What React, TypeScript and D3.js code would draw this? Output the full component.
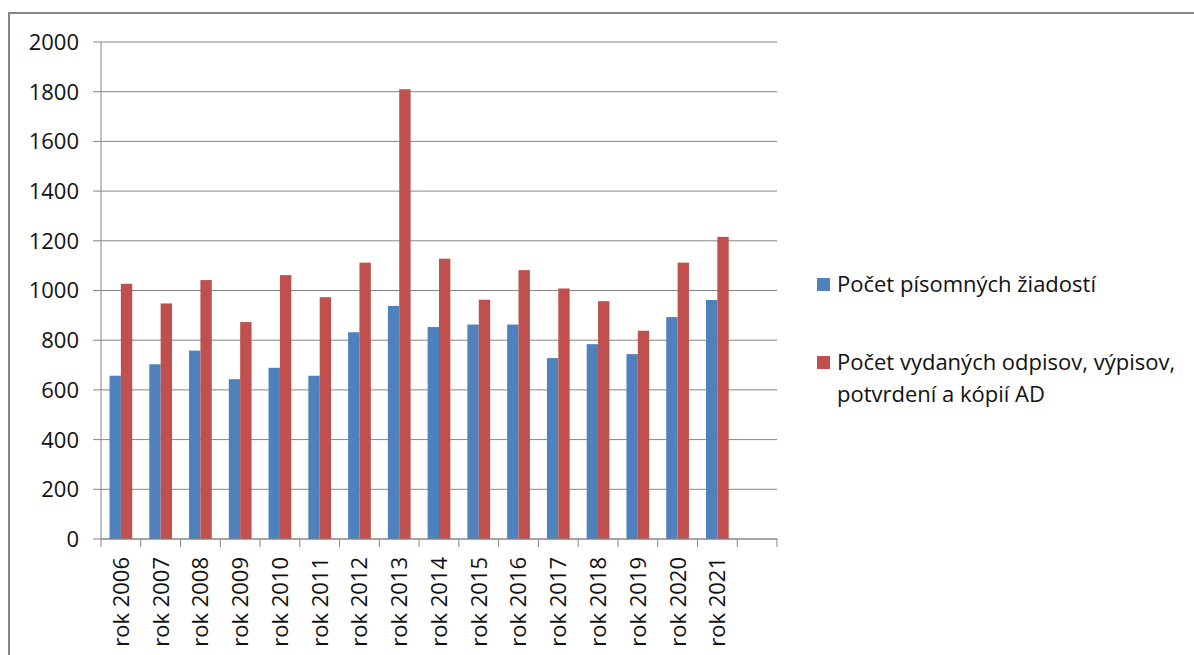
import React from "react";
import * as d3 from "d3";

const categories = [
  "rok 2006", "rok 2007", "rok 2008", "rok 2009", "rok 2010", "rok 2011",
  "rok 2012", "rok 2013", "rok 2014", "rok 2015", "rok 2016", "rok 2017",
  "rok 2018", "rok 2019", "rok 2020", "rok 2021",
];
// Excel range held one blank row after 2021
const slots = [...categories, ""];

const seriesNames = ["Počet písomných žiadostí", "Počet vydaných odpisov, výpisov, potvrdení a kópií AD"];
const legendLines = [["Počet písomných žiadostí"], ["Počet vydaných odpisov, výpisov,", "potvrdení a kópií AD"]];
const requests = [657, 703, 758, 643, 689, 657, 832, 938, 853, 863, 863, 728, 784, 744, 893, 962];
const issued = [1027, 948, 1042, 873, 1062, 973, 1112, 1810, 1128, 963, 1082, 1008, 957, 838, 1112, 1216];
const yTicks = [0, 200, 400, 600, 800, 1000, 1200, 1400, 1600, 1800, 2000];
const colors = ["#4F81BD", "#C0504D"];

const W = 1194;
const H = 655;
const font = "'Open Sans', Lato, sans-serif";
const grid = "#868686";

export default function App() {
  const margin = { top: 42, left: 101, right: 417, bottom: 116 };
  const x = d3.scaleBand().domain(slots).range([margin.left, W - margin.right]);
  const y = d3.scaleLinear().domain([0, 2000]).range([H - margin.bottom, margin.top]);
  const bw = x.bandwidth();
  const gap = (bw * 0.75) / 3.5;
  const sub = d3.scaleBand().domain(["0", "1"]).range([gap, bw - gap]);
  const data = [requests, issued];
  const bounds = slots.map((s) => x(s)!).concat([x.range()[1]]);

  return (
    <svg width={W} height={H} style={{ position: "fixed", left: 0, top: 0, background: "#fff" }} fontFamily={font}>
      {/* frame */}
      <path d={`M9,${H} V13 H${W}`} fill="none" stroke={grid} strokeWidth={2} />

      {yTicks.map((t) => (
        <g key={t}>
          <line x1={x.range()[0] - 8} x2={x.range()[1]} y1={y(t)} y2={y(t)} stroke={grid} strokeWidth={1} />
          <text x={79} y={y(t)} dy="0.36em" textAnchor="end" fontSize={22} fill="#111">{t}</text>
        </g>
      ))}

      {data.map((vals, si) =>
        vals.map((v, i) => (
          <rect
            key={`${si}-${i}`}
            x={x(categories[i])! + sub(String(si))!}
            y={y(v)}
            width={sub.bandwidth()}
            height={y(0) - y(v)}
            fill={colors[si]}
          />
        ))
      )}

      <line x1={x.range()[0]} x2={x.range()[0]} y1={y(2000)} y2={y(0)} stroke={grid} strokeWidth={1} />
      <line x1={x.range()[0]} x2={x.range()[1]} y1={y(0)} y2={y(0)} stroke={grid} strokeWidth={1} />
      {bounds.map((b, i) => (
        <line key={i} x1={b} x2={b} y1={y(0)} y2={y(0) + 8} stroke={grid} strokeWidth={1} />
      ))}

      {categories.map((c) => (
        <text
          key={c}
          transform={`translate(${x(c)! + bw / 2},${y(0) + 18}) rotate(-90)`}
          textAnchor="end"
          dy="0.36em"
          fontSize={22}
          fill="#111"
        >
          {c}
        </text>
      ))}

      {seriesNames.map((s, i) => (
        <g key={s} transform={`translate(817,${278 + i * 78})`}>
          <rect width={13} height={13} fill={colors[i]} />
          {legendLines[i].map((ln, j) => (
            <text key={j} x={20} y={14 + j * 32} fontSize={22} fill="#111">{ln}</text>
          ))}
        </g>
      ))}
    </svg>
  );
}
